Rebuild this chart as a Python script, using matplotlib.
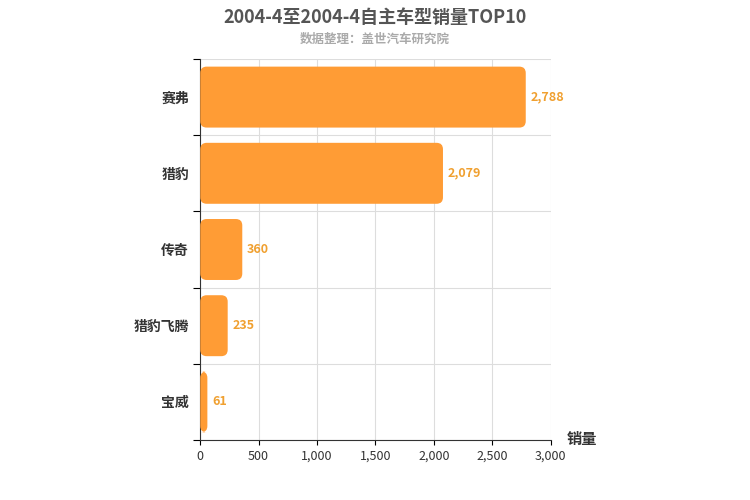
import matplotlib.pyplot as plt
from matplotlib.patches import FancyBboxPatch

plt.rcParams['font.family'] = 'Noto Sans CJK SC'

models = ['赛弗', '猎豹', '传奇', '猎豹飞腾', '宝威']
sales = [2788, 2079, 360, 235, 61]

fig = plt.figure(figsize=(7.5, 5), dpi=100)
ax = fig.add_axes([0.267, 0.12, 0.467, 0.762])

ypos = list(range(len(models)))[::-1]
bars = ax.barh(ypos, sales, height=0.8, color='none')
for b in bars:
    x, y, w, h = b.get_x(), b.get_y(), b.get_width(), b.get_height()
    ax.add_patch(FancyBboxPatch((x, y), w, h,
                                boxstyle='round,pad=0,rounding_size=55',
                                mutation_aspect=0.00153,
                                fc='#ff9c35', ec='none', zorder=3))
    ax.text(w + 40, y + h / 2, f'{w:,.0f}', va='center', ha='left',
            color='#f0a030', fontsize=9, fontweight='bold')

ax.set_xlim(0, 3000)
ax.set_ylim(-0.5, 4.5)
ax.set_xticks(range(0, 3001, 500))
ax.set_xticklabels([f'{v:,}' for v in range(0, 3001, 500)], fontsize=9, color='#333')
ax.set_yticks([i - 0.5 for i in range(6)], minor=False)
ax.set_yticklabels([])
ax.set_yticks(ypos, minor=True)
ax.set_yticklabels(models, minor=True, fontsize=10, fontweight='bold', color='#333')
ax.tick_params(axis='y', which='minor', length=0, pad=8)
ax.tick_params(axis='y', which='major', length=5, direction='out')
ax.grid(True, color='#dddddd', linewidth=0.8, zorder=0)
for s in ['top', 'right']:
    ax.spines[s].set_visible(False)
ax.spines['left'].set_color('#333')
ax.spines['bottom'].set_color('#333')

fig.text(0.5, 0.965, '2004-4至2004-4自主车型销量TOP10', ha='center', va='center',
         fontsize=13, fontweight='bold', color='#555555')
fig.text(0.5, 0.922, '数据整理：盖世汽车研究院', ha='center', va='center',
         fontsize=9, color='#aaaaaa', fontweight='bold')
fig.text(0.755, 0.122, '销量', ha='left', va='center', fontsize=11,
         fontweight='bold', color='#333')

fig.savefig('out.png', dpi=100)
